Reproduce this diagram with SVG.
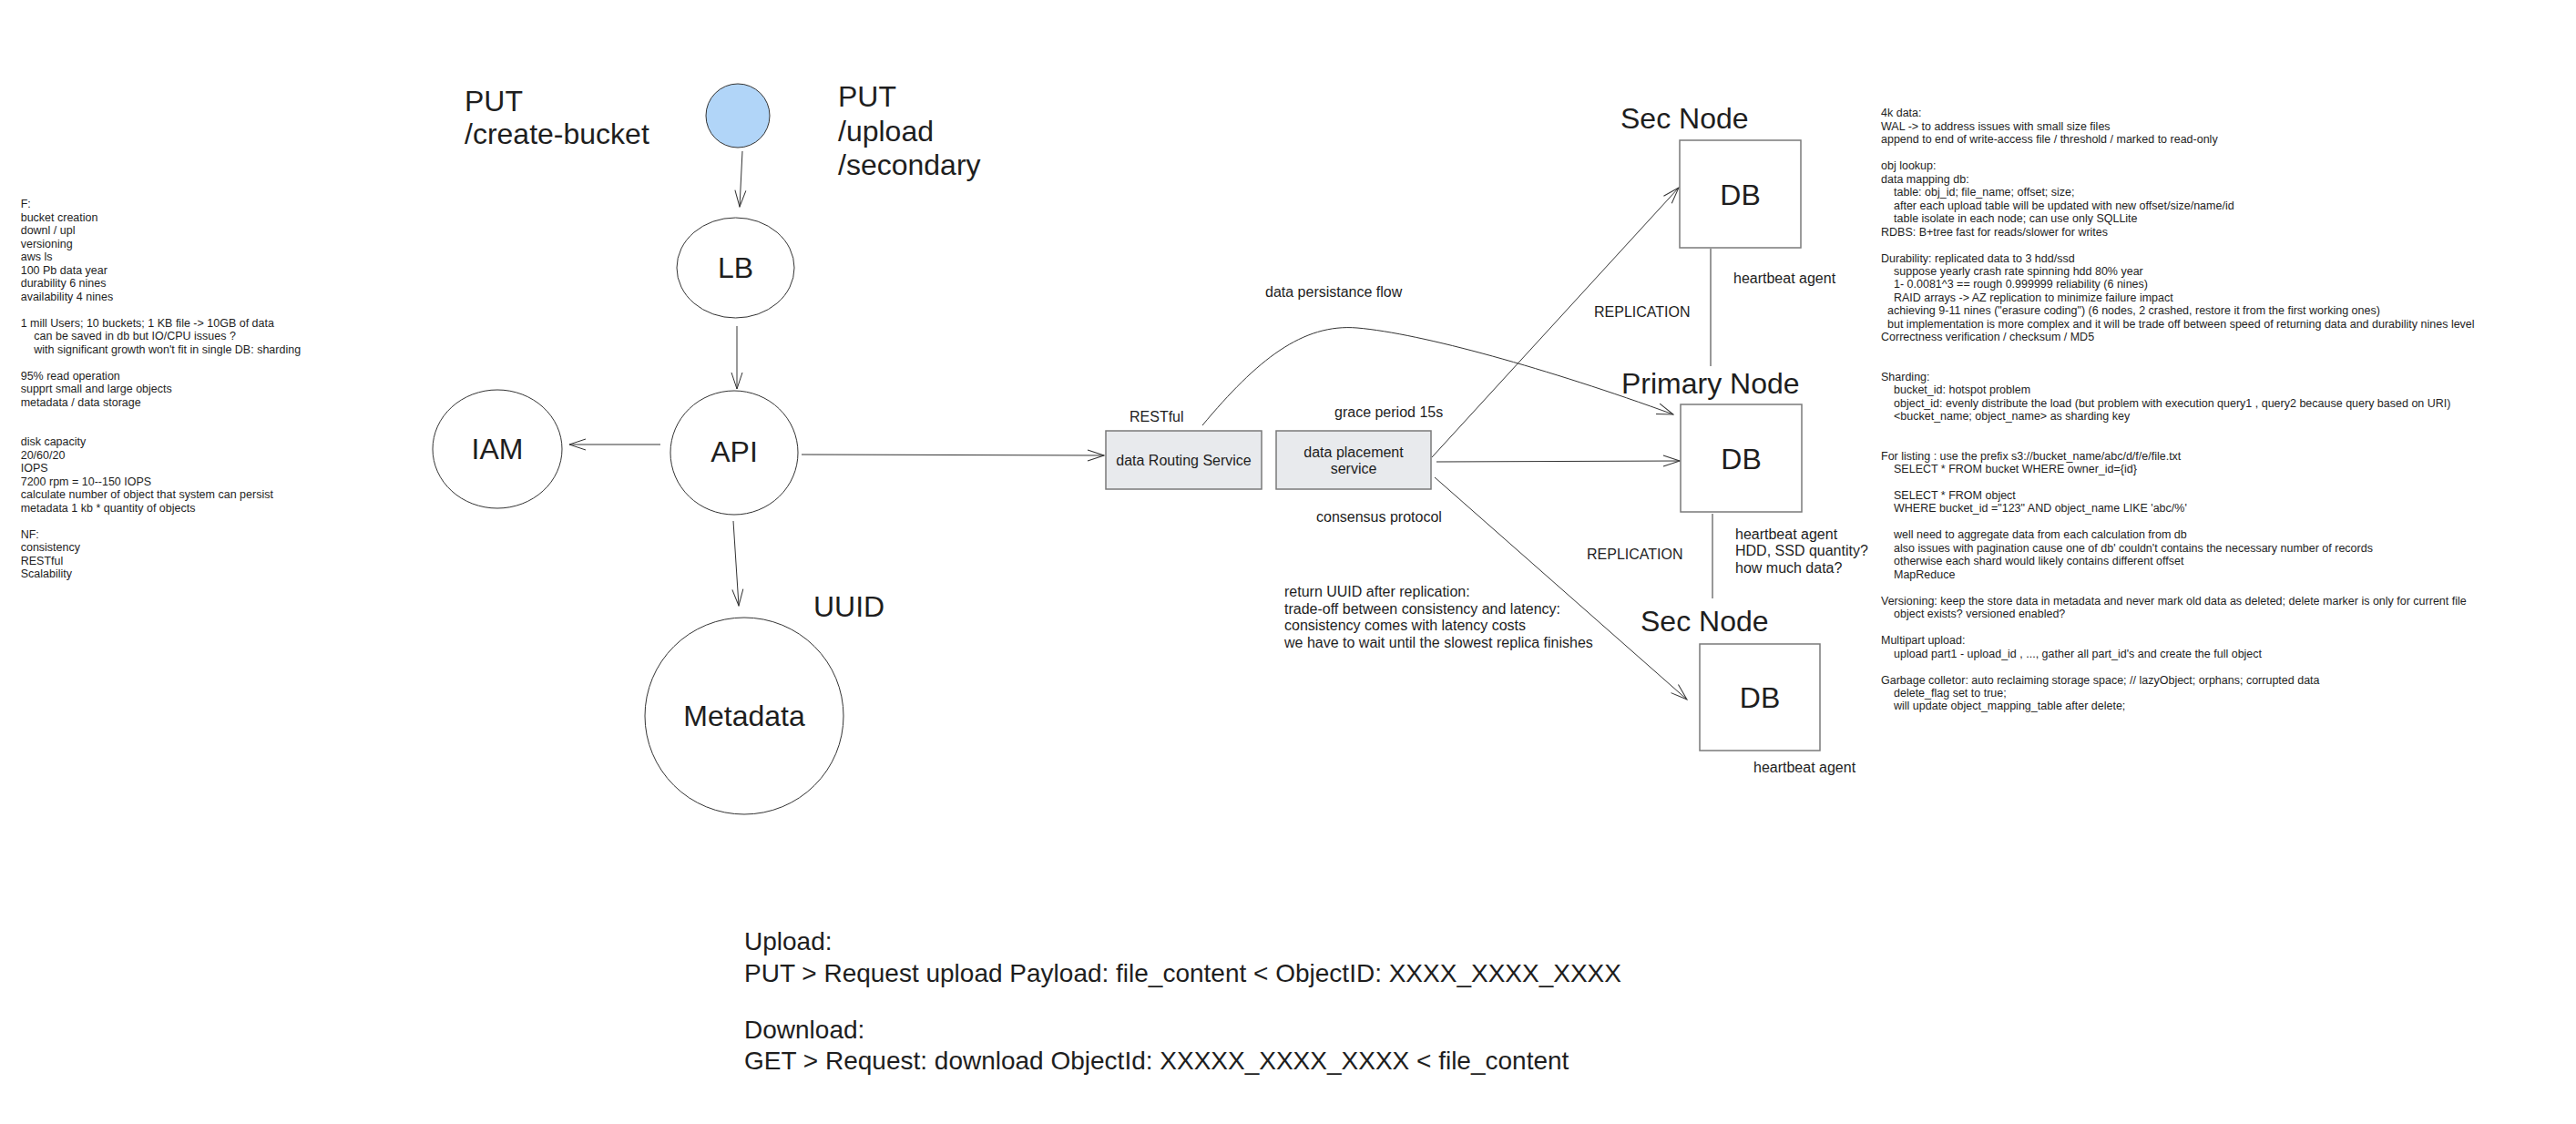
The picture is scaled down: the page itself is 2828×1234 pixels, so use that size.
<svg xmlns="http://www.w3.org/2000/svg" width="2828" height="1234" viewBox="0 0 2828 1234">
<style>
text{font-family:"Liberation Sans",Arial,Helvetica,sans-serif;fill:#1e1e1e}
.big{font-size:32px}
.mid{font-size:16px}
.sm{font-size:12.5px}
.api{font-size:28px}
.node{fill:#fff;stroke:#333;stroke-width:1}
.box{fill:#e8eaed;stroke:#7a7a7a;stroke-width:1.5}
.db{fill:#fff;stroke:#7a7a7a;stroke-width:1.5}
.c{fill:none;stroke:#333;stroke-width:1}
.ca{fill:none;stroke:#333;stroke-width:1;marker-end:url(#open)}
</style>
<defs>
<marker id="open" markerUnits="userSpaceOnUse" viewBox="0 0 20 14" refX="19" refY="7" markerWidth="20" markerHeight="14" orient="auto">
<path d="M1,1 L19,7 L1,13" fill="none" stroke="#333" stroke-width="1"/>
</marker>
</defs>
<rect width="2828" height="1234" fill="#fff"/>

<g id="connectors">
<path class="ca" d="M815,166 L812,227"/>
<path class="ca" d="M809,358 L809,427"/>
<path class="ca" d="M725,488 L625,488"/>
<path class="ca" d="M880,499 L1212,500"/>
<path class="ca" d="M805,572 L811,665"/>
<path class="ca" d="M1320,467 C1380,395 1430,355 1490,360 C1560,366 1700,405 1837,455"/>
<path class="ca" d="M1572,502 L1843,206"/>
<path class="ca" d="M1577,507 L1844,506"/>
<path class="ca" d="M1575,524 L1852,768"/>
<path class="c" d="M1878,273 L1878,402"/>
<path class="c" d="M1880,564 L1880,657"/>
</g>

<g id="client"><circle cx="810" cy="127" r="35" fill="#b1d5f8" stroke="#333" stroke-width="1"/></g>
<g id="lb"><ellipse class="node" cx="807.5" cy="294" rx="64.5" ry="55"/><text class="big" x="807.5" y="305" text-anchor="middle">LB</text></g>
<g id="api"><ellipse class="node" cx="806" cy="497" rx="70" ry="68"/><text class="big" x="806" y="507" text-anchor="middle">API</text></g>
<g id="iam"><ellipse class="node" cx="546" cy="493" rx="71" ry="65"/><text class="big" x="546" y="504" text-anchor="middle">IAM</text></g>
<g id="metadata"><ellipse class="node" cx="817" cy="786" rx="109" ry="108"/><text class="big" x="817" y="797" text-anchor="middle">Metadata</text></g>
<g id="routing"><rect class="box" x="1214" y="473" width="171" height="64"/><text class="mid" x="1299.5" y="511" text-anchor="middle">data Routing Service</text></g>
<g id="placement"><rect class="box" x="1401" y="473" width="170" height="64"/><text class="mid" x="1486" y="502" text-anchor="middle">data placement</text><text class="mid" x="1486" y="520" text-anchor="middle">service</text></g>
<g id="db-sec-top"><text class="big" x="1779" y="141">Sec Node</text><rect class="db" x="1844" y="154" width="133" height="118"/><text class="big" x="1910.5" y="225" text-anchor="middle">DB</text></g>
<g id="db-primary"><text class="big" x="1780" y="432">Primary Node</text><rect class="db" x="1845" y="444" width="133" height="118"/><text class="big" x="1911.5" y="515" text-anchor="middle">DB</text></g>
<g id="db-sec-bottom"><text class="big" x="1801" y="693">Sec Node</text><rect class="db" x="1866" y="707" width="132" height="117"/><text class="big" x="1932" y="777" text-anchor="middle">DB</text></g>

<g id="labels">
<text class="big" x="510" y="122">PUT</text>
<text class="big" x="510" y="158">/create-bucket</text>
<text class="big" x="920" y="117">PUT</text>
<text class="big" x="920" y="155">/upload</text>
<text class="big" x="920" y="192">/secondary</text>
<text class="big" x="893" y="677">UUID</text>
<text class="mid" x="1389" y="326">data persistance flow</text>
<text class="mid" x="1240" y="463">RESTful</text>
<text class="mid" x="1465" y="458">grace period 15s</text>
<text class="mid" x="1445" y="573">consensus protocol</text>
<text class="mid" x="1410" y="655">return UUID after replication:</text>
<text class="mid" x="1410" y="673.5">trade-off between consistency and latency:</text>
<text class="mid" x="1410" y="692">consistency comes with latency costs</text>
<text class="mid" x="1410" y="710.5">we have to wait until the slowest replica finishes</text>
<text class="mid" x="1903" y="311">heartbeat agent</text>
<text class="mid" x="1750" y="348">REPLICATION</text>
<text class="mid" x="1905" y="592">heartbeat agent</text>
<text class="mid" x="1905" y="610">HDD, SSD quantity?</text>
<text class="mid" x="1905" y="628.5">how much data?</text>
<text class="mid" x="1742" y="614">REPLICATION</text>
<text class="mid" x="1925" y="848">heartbeat agent</text>
<text class="api" x="817" y="1043">Upload:</text>
<text class="api" x="817" y="1078">PUT &gt; Request upload Payload: file_content &lt; ObjectID: XXXX_XXXX_XXXX</text>
<text class="api" x="817" y="1140">Download:</text>
<text class="api" x="817" y="1174">GET &gt; Request: download ObjectId: XXXXX_XXXX_XXXX &lt; file_content</text>
</g>

<g id="notes-left" class="sm">
<text class="sm" x="22.7" y="228.3">F:</text>
<text class="sm" x="22.7" y="242.8">bucket creation</text>
<text class="sm" x="22.7" y="257.3">downl / upl</text>
<text class="sm" x="22.7" y="271.8">versioning</text>
<text class="sm" x="22.7" y="286.3">aws ls</text>
<text class="sm" x="22.7" y="300.8">100 Pb data year</text>
<text class="sm" x="22.7" y="315.3">durability 6 nines</text>
<text class="sm" x="22.7" y="329.8">availability 4 nines</text>
<text class="sm" x="22.7" y="358.8">1 mill Users; 10 buckets; 1 KB file -&gt; 10GB of data</text>
<text class="sm" x="37.3" y="373.3">can be saved in db but IO/CPU issues ?</text>
<text class="sm" x="37.3" y="387.8">with significant growth won't fit in single DB: sharding</text>
<text class="sm" x="22.7" y="416.8">95% read operation</text>
<text class="sm" x="22.7" y="431.3">supprt small and large objects</text>
<text class="sm" x="22.7" y="445.8">metadata / data storage</text>
<text class="sm" x="22.7" y="489.3">disk capacity</text>
<text class="sm" x="22.7" y="503.8">20/60/20</text>
<text class="sm" x="22.7" y="518.3">IOPS</text>
<text class="sm" x="22.7" y="532.8">7200 rpm = 10--150 IOPS</text>
<text class="sm" x="22.7" y="547.3">calculate number of object that system can persist</text>
<text class="sm" x="22.7" y="561.8">metadata 1 kb * quantity of objects</text>
<text class="sm" x="22.7" y="590.8">NF:</text>
<text class="sm" x="22.7" y="605.3">consistency</text>
<text class="sm" x="22.7" y="619.8">RESTful</text>
<text class="sm" x="22.7" y="634.3">Scalability</text>
</g>

<g id="notes-right">
<text class="sm" x="2065" y="128.3">4k data:</text>
<text class="sm" x="2065" y="142.8">WAL -&gt; to address issues with small size files</text>
<text class="sm" x="2065" y="157.2">append to end of write-access file / threshold / marked to read-only</text>
<text class="sm" x="2065" y="186.2">obj lookup:</text>
<text class="sm" x="2065" y="200.7">data mapping db:</text>
<text class="sm" x="2079" y="215.1">table: obj_id; file_name; offset; size;</text>
<text class="sm" x="2079" y="229.6">after each upload table will be updated with new offset/size/name/id</text>
<text class="sm" x="2079" y="244.1">table isolate in each node; can use only SQLLite</text>
<text class="sm" x="2065" y="258.5">RDBS: B+tree fast for reads/slower for writes</text>
<text class="sm" x="2065" y="287.5">Durability: replicated data to 3 hdd/ssd</text>
<text class="sm" x="2079" y="301.9">suppose yearly crash rate spinning hdd 80% year</text>
<text class="sm" x="2079" y="316.4">1- 0.0081^3 == rough 0.999999 reliability (6 nines)</text>
<text class="sm" x="2079" y="330.9">RAID arrays -&gt; AZ replication to minimize failure impact</text>
<text class="sm" x="2072" y="345.3">achieving 9-11 nines ("erasure coding") (6 nodes, 2 crashed, restore it from the first working ones)</text>
<text class="sm" x="2072" y="359.8">but implementation is more complex and it will be trade off between speed of returning data and durability nines level</text>
<text class="sm" x="2065" y="374.3">Correctness verification / checksum / MD5</text>
<text class="sm" x="2065" y="417.7">Sharding:</text>
<text class="sm" x="2079" y="432.2">bucket_id: hotspot problem</text>
<text class="sm" x="2079" y="446.6">object_id: evenly distribute the load (but problem with execution query1 , query2 because query based on URI)</text>
<text class="sm" x="2079" y="461.1">&lt;bucket_name; object_name&gt; as sharding key</text>
<text class="sm" x="2065" y="504.5">For listing : use the prefix s3://bucket_name/abc/d/f/e/file.txt</text>
<text class="sm" x="2079" y="519">SELECT * FROM bucket WHERE owner_id={id}</text>
<text class="sm" x="2079" y="547.9">SELECT * FROM object</text>
<text class="sm" x="2079" y="562.4">WHERE bucket_id ="123" AND object_name LIKE 'abc/%'</text>
<text class="sm" x="2079" y="591.3">well need to aggregate data from each calculation from db</text>
<text class="sm" x="2079" y="605.8">also issues with pagination cause one of db' couldn't contains the necessary number of records</text>
<text class="sm" x="2079" y="620.3">otherwise each shard would likely contains different offset</text>
<text class="sm" x="2079" y="634.7">MapReduce</text>
<text class="sm" x="2065" y="663.7">Versioning: keep the store data in metadata and never mark old data as deleted; delete marker is only for current file</text>
<text class="sm" x="2079" y="678.1">object exists? versioned enabled?</text>
<text class="sm" x="2065" y="707.1">Multipart upload:</text>
<text class="sm" x="2079" y="721.5">upload part1 - upload_id , ..., gather all part_id's and create the full object</text>
<text class="sm" x="2065" y="750.5">Garbage colletor: auto reclaiming storage space; // lazyObject; orphans; corrupted data</text>
<text class="sm" x="2079" y="764.9">delete_flag set to true;</text>
<text class="sm" x="2079" y="779.4">will update object_mapping_table after delete;</text>
</g>
</svg>
